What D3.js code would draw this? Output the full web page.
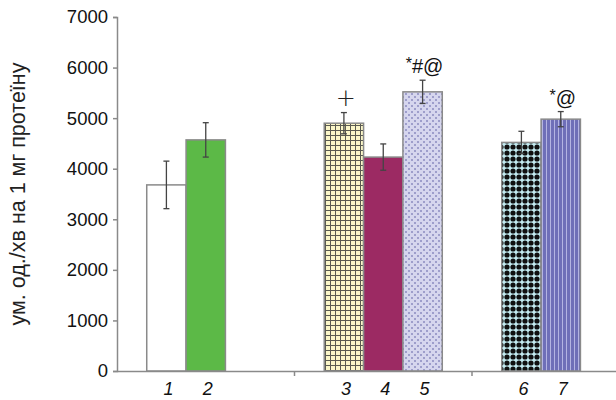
<!DOCTYPE html>
<html><head><meta charset="utf-8">
<script src="https://cdn.jsdelivr.net/npm/d3@7"></script>
<style>body{margin:0;background:#fff;} svg{display:block;font-family:"Liberation Sans",Arial,sans-serif;}</style>
</head><body><div id="chart"></div>
<script>
const categories = ["1","2","3","4","5","6","7"];
const groupOf = [0,0,1,1,1,2,2];
const slotOf = [0,1,0,1,2,0,1];
const values = [3680, 4570, 4900, 4230, 5520, 4520, 4980];
const errors = [470, 340, 210, 260, 230, 220, 150];
const annotations = ["", "", "+", "", "*#@", "", "*@"];
const yTicks = [0,1000,2000,3000,4000,5000,6000,7000];
const groups = [0,1,2];
const slots = [0,1,2];
const fills = ["#ffffff","#5cb947","url(#pGrid)","#9c2a63","url(#pDots)","url(#pCheck)","url(#pStripe)"];
const yTitle = "ум. од./хв на 1 мг протеїну";

const W = 616, H = 400;
const svg = d3.select("#chart").append("svg").attr("width", W).attr("height", H);
const defs = svg.append("defs");

let p = defs.append("pattern").attr("id","pGrid").attr("patternUnits","userSpaceOnUse").attr("width",5).attr("height",5);
p.append("rect").attr("width",5).attr("height",5).attr("fill","#fbf6c8");
p.append("rect").attr("x",0).attr("y",0).attr("width",5).attr("height",1).attr("fill","#5a5a50");
p.append("rect").attr("x",0).attr("y",0).attr("width",1).attr("height",5).attr("fill","#5a5a50");
p = defs.append("pattern").attr("id","pDots").attr("patternUnits","userSpaceOnUse").attr("width",6).attr("height",6);
p.append("rect").attr("width",6).attr("height",6).attr("fill","#d6d6ee");
p.append("rect").attr("x",0).attr("y",0).attr("width",2).attr("height",2).attr("fill","#9e9ecb");
p.append("rect").attr("x",3).attr("y",3).attr("width",2).attr("height",2).attr("fill","#9e9ecb");
p = defs.append("pattern").attr("id","pCheck").attr("patternUnits","userSpaceOnUse").attr("width",6).attr("height",6);
p.append("rect").attr("width",6).attr("height",6).attr("fill","#c4ecf2");
p.append("circle").attr("cx",3).attr("cy",3).attr("r",2.6).attr("fill","#101010");
p = defs.append("pattern").attr("id","pStripe").attr("patternUnits","userSpaceOnUse").attr("width",4).attr("height",4);
p.append("rect").attr("width",4).attr("height",4).attr("fill","#6f6fb8");
p.append("rect").attr("x",2).attr("y",0).attr("width",1).attr("height",4).attr("fill","#b4b4e2");

const x0 = d3.scaleBand().domain(groups).range([117, 649.5]).paddingInner(0.335).paddingOuter(0.1675);
const x1 = d3.scaleBand().domain(slots).range([0, x0.bandwidth()]);
const y = d3.scaleLinear().domain([0,7000]).range([371,17]);
const xPos = i => x0(groupOf[i]) + x1(slotOf[i]);
const bw = x1.bandwidth();

const axisColor = "#8a8a8a";
const ya = svg.append("g").attr("transform","translate(117,0)")
  .call(d3.axisLeft(y).tickValues(yTicks).tickSize(4).tickPadding(5).tickFormat(d3.format("d")));
ya.select(".domain").attr("stroke",axisColor).attr("stroke-width",1.5);
ya.selectAll(".tick line").attr("stroke",axisColor).attr("stroke-width",1.5);
ya.selectAll("text").attr("font-size",18.5).attr("fill","#111").attr("font-family","Liberation Sans, Arial, sans-serif");

svg.append("text").attr("transform","translate(25,194) rotate(-90)").attr("text-anchor","middle")
  .attr("font-size",21.5).attr("fill","#222").text(yTitle);

const idx = d3.range(categories.length);
svg.append("g").selectAll("rect").data(idx).join("rect")
  .attr("x", i => xPos(i)).attr("y", i => y(values[i]))
  .attr("width", bw).attr("height", i => y(0) - y(values[i]))
  .attr("fill", i => fills[i]).attr("stroke","#8a8a8a").attr("stroke-width",1.5);

const eg = svg.append("g").attr("stroke","#444").attr("stroke-width",1.3);
idx.forEach(i => {
  const cx = xPos(i) + bw/2;
  const t = y(values[i] + errors[i]), b = y(values[i] - errors[i]);
  eg.append("line").attr("x1",cx).attr("x2",cx).attr("y1",t).attr("y2",b);
  eg.append("line").attr("x1",cx-3).attr("x2",cx+3).attr("y1",t).attr("y2",t);
  eg.append("line").attr("x1",cx-3).attr("x2",cx+3).attr("y1",b).attr("y2",b);
});

idx.filter(i => annotations[i]).forEach(i => {
  const cx = xPos(i) + bw/2;
  const ty = y(values[i] + errors[i]) - 7;
  const a = annotations[i];
  if (a === "+") {
    svg.append("text").attr("x",cx+2).attr("y",ty).attr("text-anchor","middle").attr("font-size",24).attr("font-weight",300)
      .attr("font-family","DejaVu Sans, sans-serif").attr("fill","#222").text("+");
  } else {
    const t = svg.append("text").attr("x",cx+2).attr("y",ty).attr("text-anchor","middle").attr("font-size",20).attr("fill","#111");
    t.append("tspan").attr("font-size",16).attr("dy",-4).text("*");
    t.append("tspan").attr("dy",4).text(a.slice(1));
  }
});

svg.append("line").attr("x1",117).attr("x2",616).attr("y1",371.5).attr("y2",371.5).attr("stroke",axisColor).attr("stroke-width",1.5);
[1,2].forEach(g => {
  const gx = x0(g) - x0.step()*x0.paddingInner()/2;
  svg.append("line").attr("x1",gx).attr("x2",gx).attr("y1",371).attr("y2",376).attr("stroke",axisColor).attr("stroke-width",1.5);
});

svg.append("g").selectAll("text").data(idx).join("text")
  .attr("x", i => xPos(i) + bw/2 + 2).attr("y", 395).attr("text-anchor","middle")
  .attr("font-size",18).attr("font-style","italic").attr("fill","#111").text(i => categories[i]);
</script></body></html>
